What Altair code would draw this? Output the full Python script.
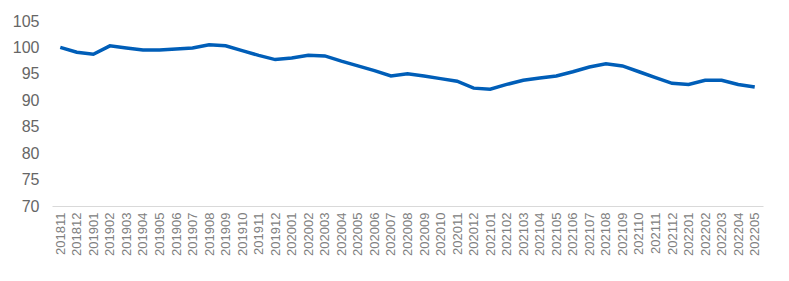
import altair as alt
import pandas as pd

months = ["201811", "201812", "201901", "201902", "201903", "201904", "201905", "201906",
          "201907", "201908", "201909", "201910", "201911", "201912", "202001", "202002",
          "202003", "202004", "202005", "202006", "202007", "202008", "202009", "202010",
          "202011", "202012", "202101", "202102", "202103", "202104", "202105", "202106",
          "202107", "202108", "202109", "202110", "202111", "202112", "202201", "202202",
          "202203", "202204", "202205"]
values = [100.0, 99.1, 98.7, 100.3, 99.9, 99.5, 99.5, 99.7,
          99.9, 100.5, 100.3, 99.4, 98.5, 97.7, 98.0, 98.5,
          98.4, 97.4, 96.5, 95.6, 94.6, 95.0, 94.6, 94.1,
          93.6, 92.3, 92.1, 93.0, 93.8, 94.2, 94.6, 95.4,
          96.3, 96.9, 96.5, 95.4, 94.3, 93.2, 93.0, 93.8,
          93.8, 93.0, 92.5]
y_ticks = [70, 75, 80, 85, 90, 95, 100, 105]

df = pd.DataFrame({"month": months, "value": values})

chart = alt.Chart(df).mark_line(color="#005EB8", strokeWidth=3.5).encode(
    x=alt.X("month:N", sort=months, title=None,
            scale=alt.Scale(paddingInner=0, paddingOuter=0.5),
            axis=alt.Axis(labelAngle=-90, labelFont="Liberation Sans", labelFontSize=13,
                          labelColor="#808080", ticks=False, domainColor="#d9d9d9",
                          domainWidth=1, labelPadding=6, grid=False)),
    y=alt.Y("value:Q", title=None,
            scale=alt.Scale(domain=[70, 105], nice=False, zero=False),
            axis=alt.Axis(values=y_ticks, labelFont="Liberation Sans", labelFontSize=16,
                          labelColor="#666666", ticks=False, domain=False, grid=False,
                          labelPadding=13)),
).properties(
    width=711, height=185,
    background="white",
    autosize=alt.AutoSizeParams(type="none"),
    padding={"left": 52, "top": 21, "right": 26, "bottom": 75},
).configure_view(strokeWidth=0, stroke=None)

chart.save("out.html", embed_options={"renderer": "svg", "actions": False})
